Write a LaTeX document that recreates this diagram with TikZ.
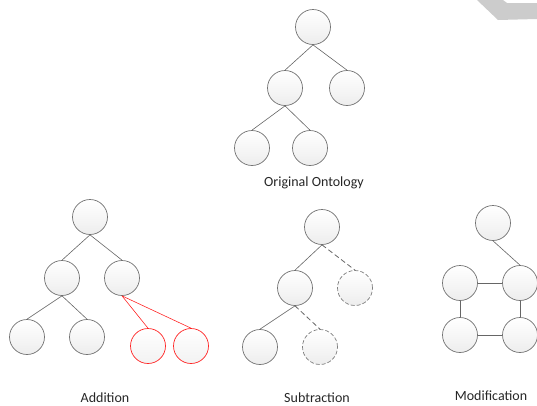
\documentclass[tikz,border=0pt]{standalone}
\usepackage{fontspec}
\setmainfont{Carlito}
\begin{document}
\begin{tikzpicture}[x=1pt,y=-1pt,
    concept/.style={circle,draw=gray!90!black,line width=0.7pt,top color=white,bottom color=gray!14,minimum size=35pt,inner sep=0pt},
    added/.style={concept,draw=red!85,top color=white,bottom color=gray!10},
    removed/.style={concept,dashed,dash pattern=on 4pt off 2pt,draw=gray},
    link/.style={draw=gray!80!black,line width=0.6pt},
    addlink/.style={draw=red!85,line width=0.6pt},
    dellink/.style={draw=gray!80!black,line width=0.8pt,dash pattern=on 5pt off 3pt},
    caption/.style={font=\fontsize{14}{16}\selectfont,text=black!85}]
  % Canvas
  \useasboundingbox (0,0) rectangle (537,405);

  % Cropped gray shape in the upper right corner
  \fill[gray!40] (477,0) -- (498,20) -- (537,19) -- (537,3) -- (507,3) -- (503,0) -- cycle;

  % Original ontology
  \node[concept] (o0) at (313,27) {};
  \node[concept] (o1) at (285,88) {};
  \node[concept] (o2) at (347,88) {};
  \node[concept] (o3) at (252,148) {};
  \node[concept] (o4) at (310,148) {};
  \draw[link] (o0.south) -- (o1.north);
  \draw[link] (o0.south) -- (o2.north);
  \draw[link] (o1.south) -- (o3.north);
  \draw[link] (o1.south) -- (o4.north);
  \node[caption] (otext) at (314,183) {Original Ontology};

  % Addition
  \node[concept] (a0) at (90,217) {};
  \node[concept] (a1) at (62,278) {};
  \node[concept] (a2) at (122,278) {};
  \node[concept] (a3) at (27,337) {};
  \node[concept] (a4) at (87,337) {};
  \node[added] (a5) at (148,346) {};
  \node[added] (a6) at (191,346) {};
  \draw[link] (a0.south) -- (a1.north);
  \draw[link] (a0.south) -- (a2.north);
  \draw[link] (a1.south) -- (a3.north);
  \draw[link] (a1.south) -- (a4.north);
  \draw[addlink] (a2.south) -- (a5.north);
  \draw[addlink] (a2.south) -- (a6.north);
  \node[caption] (atext) at (105,398) {Addition};

  % Subtraction
  \node[concept] (s0) at (322,227) {};
  \node[concept] (s1) at (295,288) {};
  \node[removed] (s2) at (355,288) {};
  \node[concept] (s3) at (260,347) {};
  \node[removed] (s4) at (320,347) {};
  \draw[link] (s0.south) -- (s1.north);
  \draw[dellink] (s0.south) -- (s2.north);
  \draw[link] (s1.south) -- (s3.north);
  \draw[dellink] (s1.south) -- (s4.north);
  \node[caption] (stext) at (317,398) {Subtraction};

  % Modification
  \node[concept] (m0) at (493,223) {};
  \node[concept] (m1) at (460,283) {};
  \node[concept] (m2) at (520,283) {};
  \node[concept] (m3) at (460,335) {};
  \node[concept] (m4) at (520,335) {};
  \draw[link] (m0.south) -- (m2.north);
  \draw[link] (m1.east) -- (m2.west);
  \draw[link] (m3.east) -- (m4.west);
  \draw[link] (m1.south) -- (m3.north);
  \draw[link] (m2.south) -- (m4.north);
  \node[caption] (mtext) at (491,396) {Modification};
\end{tikzpicture}
\end{document}
